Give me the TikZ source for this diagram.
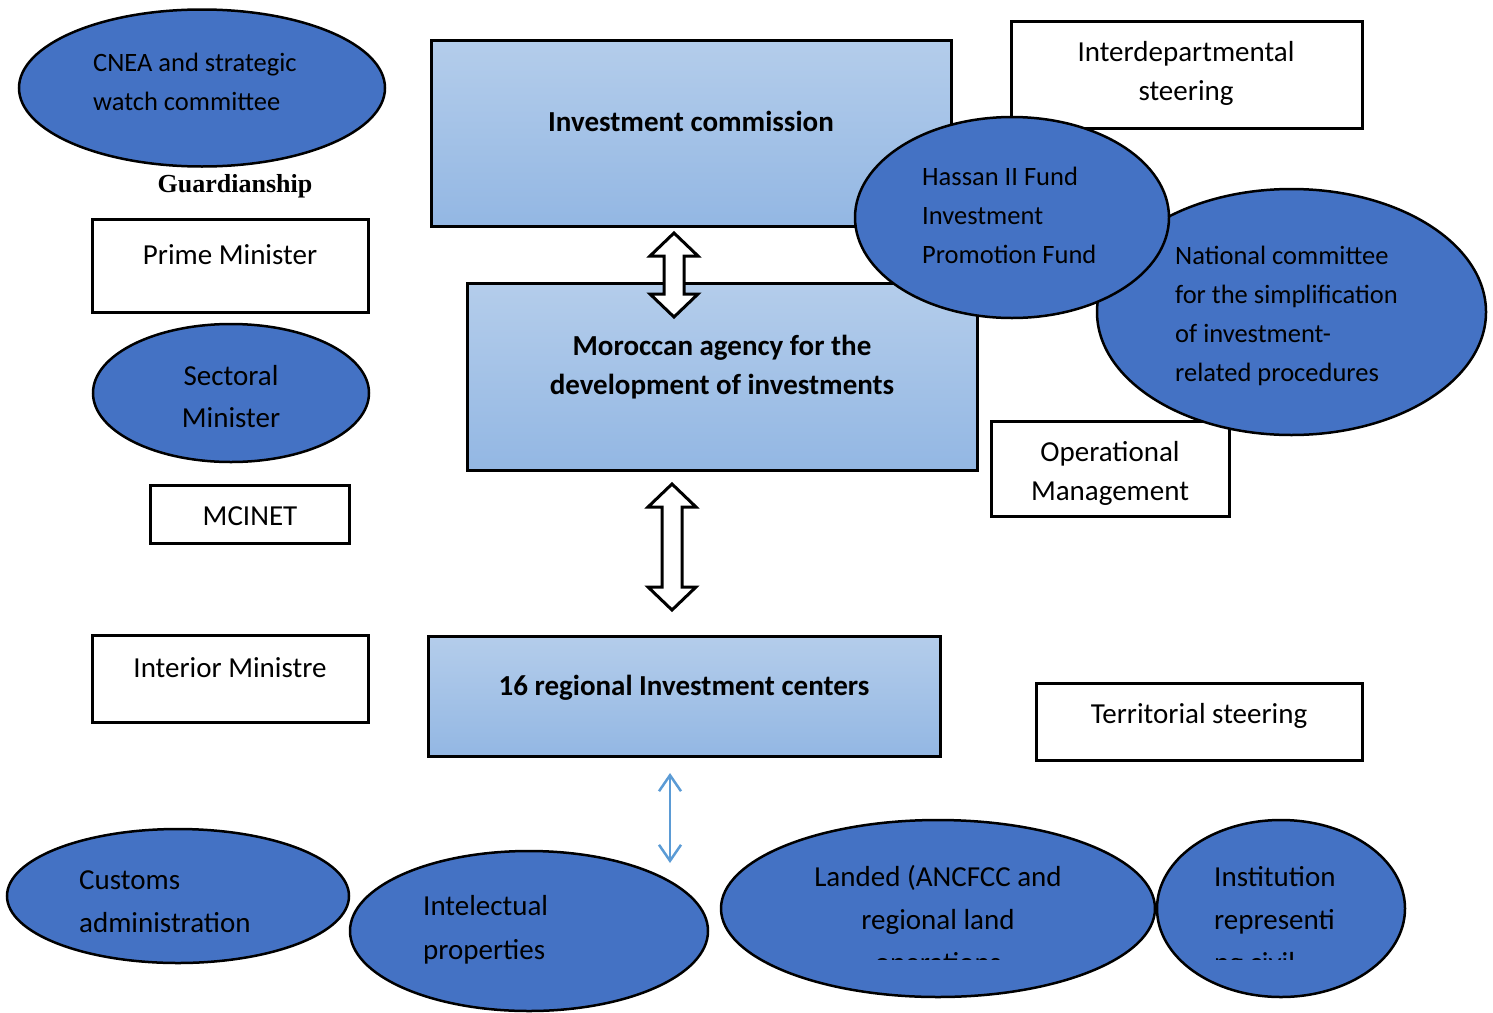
\documentclass[tikz,border=0pt]{standalone}
\usepackage{fontspec}
\setmainfont{Carlito}
\newfontfamily\timesfont{Liberation Serif}
\usetikzlibrary{shapes.geometric,arrows.meta}
\definecolor{ellblue}{HTML}{4472C4}
\definecolor{gradtop}{HTML}{B4CDEB}
\definecolor{gradbot}{HTML}{93B7E3}
\definecolor{thinblue}{HTML}{5B9BD5}
\tikzset{
 plainbox/.style={draw=black, line width=3pt, fill=white, rectangle, inner sep=0pt},
 gradbox/.style={draw=black, line width=3pt, rectangle, inner sep=0pt, top color=gradtop, bottom color=gradbot},
 oval/.style={draw=black, line width=2.5pt, fill=ellblue, ellipse, inner sep=0pt},
 txt/.style={inner sep=0pt, font=\fontsize{29}{35}\selectfont, text=black},
 stxt/.style={inner sep=0pt, font=\fontsize{26.5}{32}\selectfont, text=black},
 btxt/.style={inner sep=0pt, font=\fontsize{29}{35}\selectfont\bfseries, text=black},
 blockarrow/.style={draw=black, line width=3pt, fill=white, line join=miter},
 thinarrow/.style={draw=thinblue, line width=2.5pt, {Straight Barb[length=16pt,width=22pt]}-{Straight Barb[length=16pt,width=22pt]}},
}
\begin{document}
\begin{tikzpicture}[x=1pt,y=-1pt]
\useasboundingbox (0,0) rectangle (1493,1012);
\clip (0,0) rectangle (1493,1012);

% top boxes
\node[gradbox, minimum width=520pt, minimum height=186pt] (invc) at (691,133) {};
\node[btxt, anchor=base] (invct) at (691,131) {Investment commission};
\node[plainbox, minimum width=351pt, minimum height=107pt] (inter) at (1186.5,74.5) {};
\node[txt, anchor=base] (intert1) at (1186,61) {Interdepartmental};
\node[txt, anchor=base] (intert2) at (1186,100) {steering};
\node[gradbox, minimum width=510pt, minimum height=187pt] (mor) at (722,376.5) {};
\node[btxt, anchor=base] (mort1) at (722,355) {Moroccan agency for the};
\node[btxt, anchor=base] (mort2) at (722,394) {development of investments};
\node[plainbox, minimum width=238pt, minimum height=95pt] (opm) at (1110,468.5) {};
\node[txt, anchor=base] (opmt1) at (1110,461) {Operational};
\node[txt, anchor=base] (opmt2) at (1110,500) {Management};

% right ellipses
\node[oval, minimum width=389pt, minimum height=246pt] (natc) at (1291.5,312) {};
\node[stxt, anchor=base west] (natct1) at (1175,264) {National committee};
\node[stxt, anchor=base west] (natct2) at (1175,303) {for the simplification};
\node[stxt, anchor=base west] (natct3) at (1175,342) {of investment-};
\node[stxt, anchor=base west] (natct4) at (1175,381) {related procedures};
\node[oval, minimum width=314pt, minimum height=201pt] (hassan) at (1012,217.5) {};
\node[stxt, anchor=base west] (hassant1) at (922,185) {Hassan II Fund};
\node[stxt, anchor=base west] (hassant2) at (922,224) {Investment};
\node[stxt, anchor=base west] (hassant3) at (922,263) {Promotion Fund};

% block arrows
\draw[blockarrow] (674,233) -- (698,256) -- (684,256) -- (684,294) -- (698,294) -- (674,317) -- (650,294) -- (664,294) -- (664,256) -- (650,256) -- cycle;
\draw[blockarrow] (672,484) -- (696,507) -- (682,507) -- (682,587) -- (696,587) -- (672,610) -- (648,587) -- (662,587) -- (662,507) -- (648,507) -- cycle;

% left column
\node[oval, minimum width=366pt, minimum height=157pt] (cnea) at (202,88) {};
\node[stxt, anchor=base west] (cneat1) at (93,71) {CNEA and strategic};
\node[stxt, anchor=base west] (cneat2) at (93,110) {watch committee};
\node[inner sep=0pt, font=\timesfont\fontsize{26}{30}\selectfont\bfseries, anchor=base] (guard) at (235,192) {Guardianship};
\node[plainbox, minimum width=276pt, minimum height=93pt] (pm) at (230,265.5) {};
\node[txt, anchor=base] (pmt) at (230,264) {Prime Minister};
\node[oval, minimum width=276pt, minimum height=138pt] (sect) at (231,393) {};
\node[txt, anchor=base] (sectt1) at (231,385) {Sectoral};
\node[txt, anchor=base] (sectt2) at (231,427) {Minister};
\node[plainbox, minimum width=199pt, minimum height=58pt] (mci) at (249.5,514) {};
\node[txt, anchor=base] (mcit) at (250,525) {MCINET};
\node[plainbox, minimum width=276pt, minimum height=87pt] (intm) at (230,678.5) {};
\node[txt, anchor=base] (intmt) at (230,677) {Interior Ministre};

% regional
\node[gradbox, minimum width=512pt, minimum height=120pt] (reg) at (684,696) {};
\node[btxt, anchor=base] (regt) at (684,695) {16 regional Investment centers};
\node[plainbox, minimum width=326pt, minimum height=77pt] (terr) at (1199,721.5) {};
\node[txt, anchor=base] (terrt) at (1199,723) {Territorial steering};

% thin arrow
\coordinate (ta) at (670,773);
\coordinate (tb) at (670,863);
\draw[thinarrow] (ta) -- (tb);

% bottom ellipses
\node[oval, minimum width=342pt, minimum height=134pt] (cust) at (178,896) {};
\node[txt, anchor=base west] (custt1) at (79,889) {Customs};
\node[txt, anchor=base west] (custt2) at (79,932) {administration};
\node[oval, minimum width=358pt, minimum height=160pt] (intel) at (529,931) {};
\node[txt, anchor=base west] (intelt1) at (423,915) {Intelectual};
\node[txt, anchor=base west] (intelt2) at (423,959) {properties};
\node[oval, minimum width=434pt, minimum height=177pt] (land) at (938,908.5) {};
\node[oval, minimum width=248pt, minimum height=177pt] (inst) at (1281,908.5) {};
\node[txt, anchor=base] (landt1) at (938,886) {Landed (ANCFCC and};
\node[txt, anchor=base] (landt2) at (938,929) {regional land};
\node[txt, anchor=base west] (instt1) at (1214,886) {Institution};
\node[txt, anchor=base west] (instt2) at (1214,929) {representi};
\begin{scope}
\clip (700,800) rectangle (1493,959);
\node[txt, anchor=base] (landt3) at (938,972) {operations};
\node[txt, anchor=base west] (instt3) at (1214,972) {ng civil};
\end{scope}
\end{tikzpicture}
\end{document}
